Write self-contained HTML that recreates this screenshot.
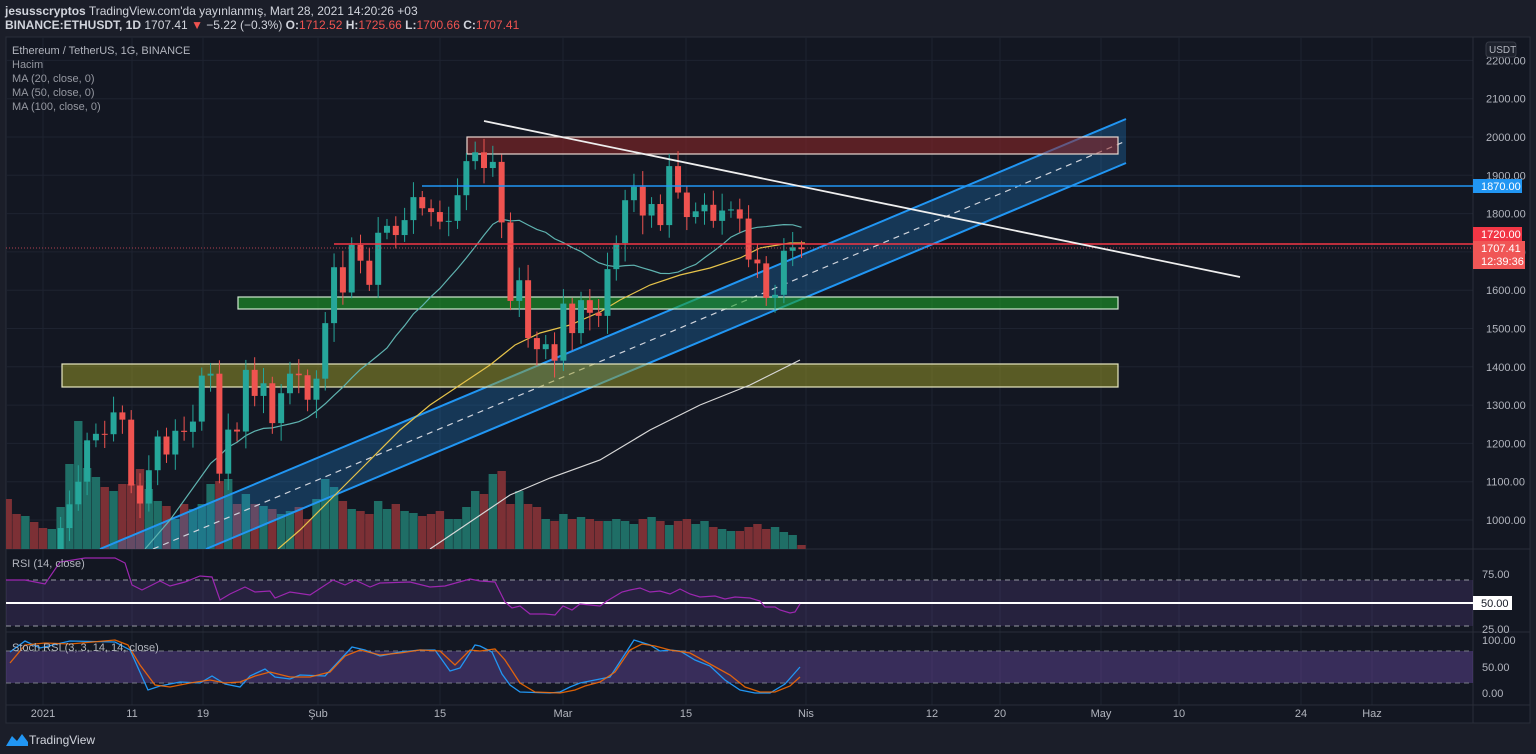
<!DOCTYPE html>
<html><head><meta charset="utf-8">
<style>
html,body{margin:0;padding:0;background:#1b1e29;width:1536px;height:754px;overflow:hidden;font-family:"Liberation Sans",sans-serif}
svg{position:absolute;left:0;top:0}
</style></head><body>
<svg id="s" width="1536" height="754" xmlns="http://www.w3.org/2000/svg"></svg>
<script>
var c=[730,775,979,1041,1100,1208,1225,1224,1281,1262,1090,1043,1130,1218,1171,1233,1230,1257,1377,1382,1121,1236,1231,1392,1324,1357,1253,1331,1382,1378,1314,1369,1514,1660,1594,1718,1677,1614,1750,1768,1744,1783,1843,1814,1804,1779,1781,1848,1937,1960,1919,1935,1777,1572,1626,1475,1446,1459,1416,1565,1488,1574,1541,1533,1655,1723,1835,1870,1795,1825,1770,1924,1855,1791,1806,1823,1781,1808,1811,1787,1680,1670,1580,1588,1703,1712,1707];
var pre=[600,620,640,635,650,690,700,680,690,720,735,754,738,740,735,754,738,730,745,735];
var all=pre.concat(c);
function X(d){return 43+8.82*d}
function Y(p){return 137+(2000-p)*0.383}
var o='';
o+='<rect x="6" y="37" width="1524" height="686" fill="#131722" stroke="#2a2e39"/>';
var vx=[43,132,203,318,440,563,686,806,932,1000,1101,1179,1301,1372];
vx.forEach(function(x){o+='<line x1="'+x+'" y1="37" x2="'+x+'" y2="705" stroke="#1e2330"/>'});
for(var p=1000;p<=2200;p+=100){var y=Y(p);o+='<line x1="6" y1="'+y+'" x2="1473" y2="'+y+'" stroke="#1e2330"/>';o+='<text x="1486" y="'+(y+4)+'" fill="#b2b5be" font-size="11">'+p+'.00</text>'}
o+='<line x1="6" y1="549" x2="1530" y2="549" stroke="#2a2e39"/><line x1="6" y1="632" x2="1530" y2="632" stroke="#2a2e39"/><line x1="6" y1="705" x2="1530" y2="705" stroke="#2a2e39"/><line x1="1473" y1="37" x2="1473" y2="723" stroke="#2a2e39"/>';
o+='<defs><clipPath id="mp"><rect x="6" y="37" width="1467" height="512"/></clipPath></defs><g clip-path="url(#mp)">';
var vh=[50,35,33,27,21,20,42,85,128,81,72,62,58,65,65,80,60,48,43,30,45,40,45,65,68,70,45,55,45,43,40,35,38,42,30,50,70,62,48,40,38,35,48,40,45,38,36,33,35,38,30,30,42,58,55,75,78,45,58,45,42,30,28,35,30,32,30,28,28,30,28,25,30,32,28,24,28,30,25,28,22,20,18,18,22,25,20,22,17,14,4];
for(var i=0;i<vh.length;i++){var d=i-4;var cl=all[d+20],op=all[d+19];var up=cl>=op;o+='<rect x="'+(X(d)-4.2)+'" y="'+(549-vh[i])+'" width="8.4" height="'+vh[i]+'" fill="'+(up?'#1f6e66':'#7c3035')+'"/>'}
o+='<polygon points="100,549 1126,119 1126,163 206,549" fill="rgba(33,150,243,0.25)"/>';
o+='<line x1="100" y1="549" x2="1126" y2="119" stroke="#2196f3" stroke-width="2"/><line x1="206" y1="549" x2="1126" y2="163" stroke="#2196f3" stroke-width="2"/><line x1="153" y1="549" x2="1126" y2="141" stroke="#d0d4dc" stroke-width="1.2" stroke-dasharray="6,5"/>';
o+='<rect x="467" y="137" width="651" height="17" fill="rgba(150,40,40,0.55)" stroke="#e8d8d0" stroke-width="1.2"/>';
o+='<rect x="238" y="297" width="880" height="12" fill="rgba(30,160,40,0.6)" stroke="#d0e8d0" stroke-width="1.2"/>';
o+='<rect x="62" y="364" width="1056" height="23" fill="rgba(160,160,40,0.5)" stroke="#e8e8c0" stroke-width="1.2"/>';
var m20='145,549 170,520 ';for(var d=18;d<=86;d++){var s=0;for(var k=0;k<20;k++)s+=all[d+20-k];m20+=X(d)+','+Y(s/20)+' '}
o+='<polyline points="'+m20+'" fill="none" stroke="#5fb3b0" stroke-width="1.2"/>';
o+='<polyline points="278,549 300,530 330,500 360,470 400,430 430,405 460,385 490,365 515,345 540,333 570,325 600,312 620,300 650,285 680,275 710,268 740,258 760,248 790,243 805,243" fill="none" stroke="#e6c34a" stroke-width="1.2"/>';
o+='<polyline points="430,549 470,522 510,495 550,478 600,460 650,430 700,405 750,385 800,360" fill="none" stroke="#d8d8d8" stroke-width="1.2"/>';
for(var d=-4;d<=86;d++){var cl=all[d+20],op=all[d+19];var up=cl>=op;var h=Math.max(cl,op)+15+((d*37)%30),l=Math.min(cl,op)-15-((d*53)%35);var col=up?'#26a69a':'#ef5350';var x=X(d);
o+='<line x1="'+x+'" y1="'+Y(h)+'" x2="'+x+'" y2="'+Y(l)+'" stroke="'+col+'"/>';var t=Y(Math.max(cl,op)),b=Y(Math.min(cl,op));o+='<rect x="'+(x-3)+'" y="'+t+'" width="6" height="'+Math.max(1,b-t)+'" fill="'+col+'"/>'}
o+='</g>';
o+='<line x1="422" y1="186" x2="1473" y2="186" stroke="#2196f3" stroke-width="1.5"/>';
o+='<line x1="334" y1="244" x2="1473" y2="244" stroke="#f23645" stroke-width="1.5"/>';
o+='<line x1="6" y1="248" x2="1473" y2="248" stroke="#b04050" stroke-dasharray="1,2"/>';
o+='<line x1="484" y1="121" x2="1240" y2="277" stroke="#eeeeee" stroke-width="1.8"/>';
o+='<rect x="1473" y="179" width="49" height="14" fill="#2196f3"/><text x="1481" y="190" fill="#fff" font-size="11">1870.00</text>';
o+='<rect x="1473" y="227" width="49" height="14" fill="#f23645"/><text x="1481" y="238" fill="#fff" font-size="11">1720.00</text>';
o+='<rect x="1473" y="241" width="52" height="28" fill="#f05656"/><text x="1481" y="252" fill="#fff" font-size="11">1707.41</text><text x="1481" y="265" fill="#fff" font-size="11">12:39:36</text>';
o+='<rect x="1486" y="42" width="30" height="15" rx="3" fill="#1e222d" stroke="#363a45"/><text x="1489" y="53" fill="#b2b5be" font-size="10">USDT</text>';
o+='<rect x="6" y="580" width="1467" height="46" fill="rgba(126,87,194,0.18)"/>';
o+='<line x1="6" y1="580" x2="1473" y2="580" stroke="#9598a1" stroke-dasharray="5,4"/><line x1="6" y1="626" x2="1473" y2="626" stroke="#9598a1" stroke-dasharray="5,4"/>';
o+='<line x1="6" y1="603" x2="1478" y2="603" stroke="#ffffff" stroke-width="2"/>';
o+='<polyline points="6,580 25,580 45,584 60,562 85,558 115,558 125,563 132,585 142,590 160,581 170,586 185,582 200,576 212,577 220,600 230,594 245,587 255,592 270,591 275,598 290,592 310,595 333,580 345,585 355,580 370,587 380,583 410,582 430,587 445,586 470,579 480,581 495,582 505,602 512,608 520,606 530,614 545,614 555,615 563,606 572,610 580,604 600,606 607,601 622,592 630,590 640,588 650,592 660,591 670,594 680,589 690,594 700,597 715,596 725,599 735,597 750,598 760,601 765,607 775,607 780,610 790,613 795,612 800,604" fill="none" stroke="#9c27b0" stroke-width="1.2"/>';
o+='<text x="12" y="567" fill="#b2b5be" font-size="11">RSI (14, close)</text>';
o+='<text x="1482" y="578" fill="#b2b5be" font-size="11">75.00</text><rect x="1473" y="596" width="39" height="14" fill="#fff"/><text x="1481" y="607" fill="#131722" font-size="11">50.00</text><text x="1482" y="633" fill="#b2b5be" font-size="11">25.00</text>';
o+='<rect x="6" y="651" width="1467" height="32" fill="rgba(126,87,194,0.35)"/>';
o+='<line x1="6" y1="651" x2="1473" y2="651" stroke="#787b86" stroke-dasharray="5,4"/><line x1="6" y1="683" x2="1473" y2="683" stroke="#787b86" stroke-dasharray="5,4"/>';
o+='<polyline points="10,652 25,641 40,648 70,641 115,642 130,650 148,690 160,686 180,682 200,683 212,676 225,684 240,687 250,676 265,669 275,677 290,679 300,675 325,676 340,660 352,647 365,650 380,656 400,652 420,650 435,650 450,671 460,668 475,645 480,646 492,652 502,674 510,685 520,692 550,693 560,692 570,687 580,683 600,679 610,677 625,654 634,640 650,645 660,651 670,650 680,651 695,660 710,666 725,680 740,690 755,693 770,693 785,684 800,667" fill="none" stroke="#2196f3" stroke-width="1.3"/>';
o+='<polyline points="10,663 25,645 45,643 70,644 115,640 128,645 140,665 155,685 170,687 190,683 210,680 225,683 240,682 255,676 270,672 290,677 310,677 330,672 345,656 360,650 380,655 400,653 420,650 440,651 455,665 470,650 480,651 495,649 505,660 520,683 535,692 560,693 575,690 585,686 600,682 615,672 630,650 642,644 655,646 670,650 690,653 710,664 730,675 745,687 760,692 775,692 790,686 800,677" fill="none" stroke="#ff6d00" stroke-width="1.3" stroke-opacity="0.85"/>';
o+='<text x="12" y="651" fill="#b2b5be" font-size="11">Stoch RSI (3, 3, 14, 14, close)</text>';
o+='<text x="1482" y="644" fill="#b2b5be" font-size="11">100.00</text><text x="1482" y="671" fill="#b2b5be" font-size="11">50.00</text><text x="1482" y="697" fill="#b2b5be" font-size="11">0.00</text>';
var tl=['2021','11','19','Şub','15','Mar','15','Nis','12','20','May','10','24','Haz'];
vx.forEach(function(x,i){o+='<text x="'+x+'" y="717" fill="#b2b5be" font-size="11" text-anchor="middle">'+tl[i]+'</text>'});
o+='<text x="12" y="54" fill="#b2b5be" font-size="11">Ethereum / TetherUS, 1G, BINANCE</text><text x="12" y="68" fill="#9598a1" font-size="11">Hacim</text><text x="12" y="82" fill="#9598a1" font-size="11">MA (20, close, 0)</text><text x="12" y="96" fill="#9598a1" font-size="11">MA (50, close, 0)</text><text x="12" y="110" fill="#9598a1" font-size="11">MA (100, close, 0)</text>';
o+='<text x="5" y="15" fill="#d1d4dc" font-size="12"><tspan font-weight="bold">jesusscryptos</tspan> TradingView.com\'da yayınlanmış, Mart 28, 2021 14:20:26 +03</text>';
o+='<text x="5" y="29" fill="#d1d4dc" font-size="12"><tspan font-weight="bold">BINANCE:ETHUSDT, 1D</tspan> 1707.41 <tspan fill="#ef5350">▼</tspan> −5.22 (−0.3%) <tspan font-weight="bold">O:</tspan><tspan fill="#ef5350">1712.52</tspan> <tspan font-weight="bold">H:</tspan><tspan fill="#ef5350">1725.66</tspan> <tspan font-weight="bold">L:</tspan><tspan fill="#ef5350">1700.66</tspan> <tspan font-weight="bold">C:</tspan><tspan fill="#ef5350">1707.41</tspan></text>';
o+='<path d="M6,746 L12,736 L17,741 L22,734 L28,742 L28,746 Z" fill="#2196f3"/><text x="29" y="744" fill="#d1d4dc" font-size="12">TradingView</text>';
document.getElementById('s').innerHTML=o;
</script>
</body></html>
